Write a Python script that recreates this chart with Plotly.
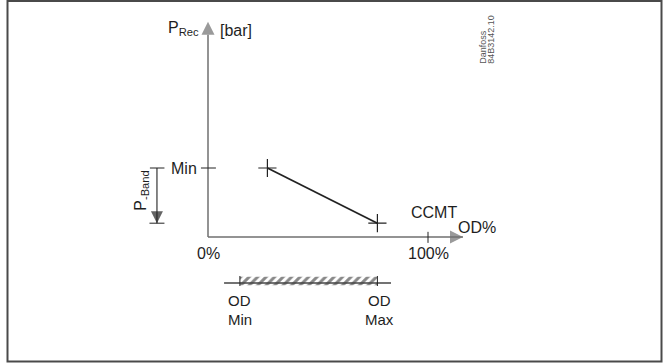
import plotly.graph_objects as go

# ---- data (OD % on x, receiver pressure on y, arbitrary bar units) ----
od_pct = [27, 77]          # CCMT line: start / end opening degree
p_rec = [10, 2]            # receiver pressure at those points
p_min = 10                 # "Min" pressure reference
p_band = 8                 # P-Band height (Min down to Min - band)
od_min = 14.5              # OD Min
od_max = 77                # OD Max
x_ticks = [0, 100]
x_tick_labels = ["0%", "100%"]
y_axis_top = 31.2          # extent of drawn y-axis arrow
x_axis_end = 115.9         # extent of drawn x-axis arrow

# ---- styling ----
FONT = "Liberation Sans, Arial, Helvetica, sans-serif"
TXT = "#1e1e1e"
AX = "#6f6f6f"
LINE = "#222222"

fig = go.Figure()

# OD range hatched bar
bar_y = -6.38
fig.add_trace(go.Bar(
    y=[bar_y], x=[od_max - od_min], base=[od_min], orientation="h",
    width=1.25,
    marker=dict(color="white", line=dict(width=0),
                pattern=dict(shape="/", fgcolor="#111111", bgcolor="white",
                             size=6, solidity=0.5)),
    hoverinfo="skip",
))

# y axis with arrow
fig.add_trace(go.Scatter(
    x=[0, 0], y=[0, y_axis_top], mode="lines+markers",
    line=dict(color=AX, width=1.5),
    marker=dict(symbol=["circle", "arrow-up"], size=[0, 13], color=AX,
                line=dict(width=0)),
    hoverinfo="skip",
))
# x axis with arrow
fig.add_trace(go.Scatter(
    x=[0, x_axis_end], y=[0, 0], mode="lines+markers",
    line=dict(color=AX, width=1.5),
    marker=dict(symbol=["circle", "arrow-right"], size=[0, 13], color=AX,
                line=dict(width=0)),
    hoverinfo="skip",
))
# P-Band arrow
bx = -23.2
band_low = p_min - p_band
fig.add_trace(go.Scatter(
    x=[bx, bx], y=[p_min, band_low], mode="lines+markers",
    line=dict(color=LINE, width=1.1),
    marker=dict(symbol=["circle", "arrow-down"], size=[0, 12], color=LINE,
                line=dict(width=0)),
    hoverinfo="skip",
))

# CCMT line with cross markers
fig.add_trace(go.Scatter(
    x=od_pct, y=p_rec, mode="lines+markers",
    line=dict(color=LINE, width=1.8),
    marker=dict(symbol="cross-thin", size=13, line=dict(color=LINE, width=1.2)),
    hoverinfo="skip",
))

shapes = []
annotations = []

# x ticks + labels
for xv, lab in zip(x_ticks, x_tick_labels):
    if xv != 0:
        shapes.append(dict(type="line", xref="x", yref="y", x0=xv, x1=xv,
                           y0=0.75, y1=-0.85, line=dict(color=LINE, width=1)))
    annotations.append(dict(x=xv, y=-2.32, xref="x", yref="y", text=lab,
                            showarrow=False, font=dict(size=16, color=TXT)))

# Min tick on y axis
shapes.append(dict(type="line", xref="x", yref="y", x0=-3.2, x1=3.6,
                   y0=p_min, y1=p_min, line=dict(color=LINE, width=1)))
annotations.append(dict(x=-4.0, y=p_min, xref="x", yref="y", text="Min",
                        xanchor="right", showarrow=False,
                        font=dict(size=16, color=TXT)))

# P-Band bracket ticks + label
shapes.append(dict(type="line", xref="x", yref="y", x0=bx - 3.2, x1=bx + 3.4,
                   y0=p_min, y1=p_min, line=dict(color=LINE, width=1)))
shapes.append(dict(type="line", xref="x", yref="y", x0=bx - 3.4, x1=bx + 3.4,
                   y0=band_low, y1=band_low, line=dict(color=LINE, width=1)))
annotations.append(dict(x=-30.6, y=6.8, xref="x", yref="y",
                        text="P<sub>-Band</sub>", textangle=-90,
                        showarrow=False, font=dict(size=16, color=TXT)))

# Axis titles
annotations.append(dict(x=-3.0, y=30.2, xref="x", yref="y",
                        text="P<sub>Rec</sub>", xanchor="right",
                        showarrow=False, font=dict(size=16, color=TXT)))
annotations.append(dict(x=4.5, y=30.0, xref="x", yref="y", text="[bar]",
                        xanchor="left", showarrow=False,
                        font=dict(size=16, color=TXT)))
annotations.append(dict(x=102.7, y=3.6, xref="x", yref="y", text="CCMT",
                        showarrow=False, font=dict(size=16, color=TXT)))
annotations.append(dict(x=122.3, y=1.45, xref="x", yref="y", text="OD%",
                        showarrow=False, font=dict(size=16, color=TXT)))

# OD range line and end ticks
shapes.append(dict(type="line", xref="x", yref="y", x0=7.3, x1=83.2,
                   y0=-6.67, y1=-6.67, line=dict(color="#444444", width=1.5)))
for xv in (od_min, od_max):
    shapes.append(dict(type="line", xref="x", yref="y", x0=xv, x1=xv,
                       y0=-5.65, y1=-7.1, line=dict(color=LINE, width=1)))
for xv, lab2 in ((od_min, "Min"), (od_max + 1, "Max")):
    annotations.append(dict(x=xv, y=-10.65, xref="x", yref="y", text="OD",
                            yanchor="bottom", showarrow=False,
                            borderpad=0,
                            font=dict(size=15, color=TXT)))
    annotations.append(dict(x=xv, y=-10.65, xref="x", yref="y", text=lab2,
                            yanchor="top", showarrow=False, borderpad=0,
                            font=dict(size=15, color=TXT)))

# Drawing reference
annotations.append(dict(x=124.9, y=24.8, xref="x", yref="y", text="Danfoss",
                        textangle=-90, yanchor="bottom", showarrow=False,
                        font=dict(size=9, color="#555555")))
annotations.append(dict(x=128.8, y=24.8, xref="x", yref="y", text="84B3142.10",
                        textangle=-90, yanchor="bottom", showarrow=False,
                        font=dict(size=9, color="#555555")))

# frame
shapes.append(dict(type="rect", xref="paper", yref="paper",
                   x0=7.5 / 663, x1=661.5 / 663, y0=1 - 361.5 / 363,
                   y1=1 - 1 / 363, line=dict(color="#4a4a4a", width=2)))

fig.update_layout(
    width=663, height=363,
    margin=dict(l=0, r=0, t=0, b=0, pad=0),
    paper_bgcolor="white", plot_bgcolor="white",
    showlegend=False, hovermode=False,
    font=dict(family=FONT, color=TXT),
    xaxis=dict(range=[-208 / 2.2, 455 / 2.2], visible=False, fixedrange=True),
    yaxis=dict(range=[(237 - 363) / 6.9, 237 / 6.9], visible=False,
               fixedrange=True),
    shapes=shapes, annotations=annotations,
)

fig.write_html(
    "out.html",
    config={"displayModeBar": False, "staticPlot": True},
    post_script="document.body.style.margin='0';"
                "document.body.style.overflow='hidden';",
)
